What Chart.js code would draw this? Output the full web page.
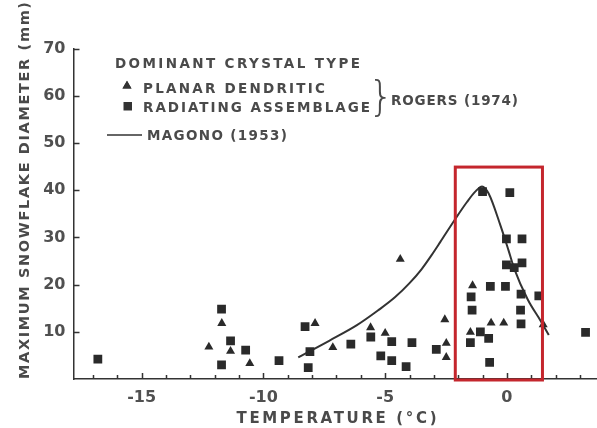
<!DOCTYPE html>
<html><head><meta charset="utf-8">
<script src="https://cdn.jsdelivr.net/npm/chart.js@4.4.0/dist/chart.umd.min.js"></script>
<style>html,body{margin:0;padding:0;background:#fff;}canvas{display:block;}</style>
</head><body>
<canvas id="c" width="597" height="428"></canvas>
<script>
// ---- data ----
const planarTemp = [-12.24, -11.71, -11.35, -10.56, -7.88, -7.15, -5.6, -5.0, -4.38, -2.55, -2.49, -2.49, -1.41, -0.65, -0.13, -1.5, 1.49];
const planarDiam = [6.8, 11.8, 5.9, 3.3, 11.8, 6.7, 10.9, 9.7, 25.4, 12.6, 7.6, 4.6, 19.8, 11.9, 11.9, 9.9, 11.5];

const radiatingTemp = [-16.8, -11.72, -11.35, -11.72, -10.73, -9.36, -8.29, -8.09, -8.16, -6.41, -5.59, -4.73, -3.9, -5.18, -4.73, -4.14, -2.9,
  -1.0, 0.12, -0.02, 0.62, -0.02, 0.3, 0.62, -0.68, -0.06, -1.47, 0.58, 1.31, -1.43, 0.56, 0.58, -1.09, -0.75, -1.5, -0.71, 3.23];
const radiatingDiam = [4.2, 14.8, 8.1, 3.0, 6.1, 3.9, 11.1, 5.8, 2.4, 7.4, 8.9, 7.9, 7.7, 4.9, 3.9, 2.6, 6.3,
  39.7, 39.5, 29.7, 29.7, 24.2, 23.6, 24.6, 19.6, 19.6, 17.4, 18.0, 17.6, 14.6, 14.6, 11.7, 10.0, 8.6, 7.7, 3.5, 9.9];

const magonoTemp = [-8.57, -7.3, -6.16, -5.3, -4.6, -4.0, -3.5, -3.1, -2.74, -2.12, -1.64, -1.3, -1.02, -0.75, -0.27, 0.07, 0.3, 0.85, 1.4, 1.72];
const magonoDiam = [4.6, 8.1, 11.4, 14.5, 17.3, 20.3, 23.3, 26.2, 29.0, 33.9, 37.5, 39.7, 40.8, 39.3, 32.6, 27.2, 23.4, 16.9, 12.2, 9.3];

const xTickValues = [-15, -10, -5, 0];
const xMinorTickValues = [-17, -16, -15, -14, -13, -12, -11, -10, -9, -8, -7, -6, -5, -4, -3, -2, -1, 0, 1, 2, 3];
const yTickValues = [10, 20, 30, 40, 50, 60, 70];

const highlightTemp = [-2.12, 1.46];
const highlightDiam = [0, 44.9];

const xTitle = 'TEMPERATURE (°C)';
const yTitle = 'MAXIMUM SNOWFLAKE DIAMETER (mm)';
const legendHeading = 'DOMINANT CRYSTAL TYPE';
const legendPlanar = 'PLANAR DENDRITIC';
const legendRadiating = 'RADIATING ASSEMBLAGE';
const legendRogers = 'ROGERS (1974)';
const legendMagono = 'MAGONO (1953)';

// ---- styling ----
const INK = '#333333';
const TEXT = '#4a4a4a';
const FONT = '"DejaVu Sans", "Liberation Sans", sans-serif';

function pts(xs, ys) { return xs.map((x, i) => ({ x: x, y: ys[i] })); }

function spacedText(ctx, text, x, yCenter, size, width, align, weight) {
  ctx.save();
  ctx.font = (weight || 'bold') + ' ' + size + 'px ' + FONT;
  ctx.letterSpacing = '0px';
  const w0 = ctx.measureText(text).width;
  const sp = (width - w0) / (text.length - 1);
  ctx.letterSpacing = sp + 'px';
  ctx.textAlign = 'left';
  ctx.textBaseline = 'alphabetic';
  ctx.fillStyle = TEXT;
  const sx = align === 'center' ? x - width / 2 : x;
  ctx.fillText(text, sx, yCenter + 0.365 * size);
  ctx.restore();
}

const decorPlugin = {
  id: 'decor',
  afterDatasetsDraw(chart) {
    const ctx = chart.ctx;
    const xs = chart.scales.x, ys = chart.scales.y;
    const area = chart.chartArea;
    ctx.save();
    ctx.strokeStyle = INK;
    ctx.lineWidth = 1.5;
    ctx.beginPath();
    xMinorTickValues.forEach(v => {
      const px = Math.round(xs.getPixelForValue(v)) + 0.5;
      const len = xTickValues.includes(v) ? 6 : 4;
      ctx.moveTo(px, area.bottom);
      ctx.lineTo(px, area.bottom - len);
    });
    yTickValues.forEach(v => {
      const py = Math.round(ys.getPixelForValue(v)) + 0.5;
      ctx.moveTo(area.left, py);
      ctx.lineTo(area.left + 6, py);
    });
    ctx.stroke();
    ctx.restore();

    ctx.save();
    ctx.strokeStyle = '#c4262d';
    ctx.lineWidth = 3;
    const x0 = xs.getPixelForValue(highlightTemp[0]);
    const x1 = xs.getPixelForValue(highlightTemp[1]);
    const y0 = ys.getPixelForValue(highlightDiam[0]) + 1;
    const y1 = ys.getPixelForValue(highlightDiam[1]);
    ctx.strokeRect(x0, y1, x1 - x0, y0 - y1);
    ctx.restore();
  },
  afterDraw(chart) {
    const ctx = chart.ctx;
    spacedText(ctx, xTitle, 336.5, 418, 15, 200, 'center');
    ctx.save();
    ctx.translate(24, 190.5);
    ctx.rotate(-Math.PI / 2);
    spacedText(ctx, yTitle, 0, 0, 14.5, 377, 'center');
    ctx.restore();

    spacedText(ctx, legendHeading, 115, 63, 13.5, 245, 'left');
    ctx.save();
    ctx.fillStyle = INK;
    Chart.helpers.drawPoint(ctx, { pointStyle: 'triangle', radius: 5.2, rotation: 0, borderWidth: 0 }, 127, 86);
    ctx.fill();
    ctx.beginPath();
    ctx.rect(123.5, 102, 8.5, 8.5);
    ctx.fill();
    ctx.restore();
    spacedText(ctx, legendPlanar, 143, 88.5, 13.5, 182, 'left');
    spacedText(ctx, legendRadiating, 143, 107, 13.5, 227, 'left');
    ctx.save();
    ctx.font = '200 40px ' + FONT;
    ctx.fillStyle = TEXT;
    ctx.textAlign = 'center';
    ctx.textBaseline = 'middle';
    ctx.fillText('}', 381, 100);
    ctx.restore();
    spacedText(ctx, legendRogers, 391, 100, 13.5, 127, 'left');
    ctx.save();
    ctx.strokeStyle = INK; ctx.lineWidth = 1.5;
    ctx.beginPath(); ctx.moveTo(107, 135); ctx.lineTo(142, 135); ctx.stroke();
    ctx.restore();
    spacedText(ctx, legendMagono, 147, 135, 13.5, 140, 'left');
  }
};

new Chart(document.getElementById('c'), {
  type: 'scatter',
  data: {
    datasets: [
      {
        label: legendMagono, type: 'line', data: pts(magonoTemp, magonoDiam),
        borderColor: INK, borderWidth: 2, pointRadius: 0, fill: false,
        cubicInterpolationMode: 'monotone', order: 3
      },
      {
        label: legendPlanar, data: pts(planarTemp, planarDiam),
        pointStyle: 'triangle', pointRadius: 5.2, backgroundColor: '#2a2a2a', borderWidth: 0, order: 2
      },
      {
        label: legendRadiating, data: pts(radiatingTemp, radiatingDiam),
        pointStyle: 'rect', pointRadius: 6.2, backgroundColor: '#2a2a2a', borderWidth: 0, order: 1
      }
    ]
  },
  options: {
    responsive: false,
    devicePixelRatio: 1,
    animation: false,
    layout: { autoPadding: false, padding: { top: 48.6, right: 0, left: 0, bottom: 0 } },
    plugins: { legend: { display: false }, tooltip: { enabled: false } },
    scales: {
      x: {
        type: 'linear', min: -17.8, max: 3.7,
        grid: { display: false, drawTicks: false },
        border: { display: true, color: INK, width: 1.5 },
        ticks: { color: '#505050', font: { family: FONT, size: 16, weight: 'bold' }, padding: 9 },
        afterBuildTicks: s => { s.ticks = xTickValues.map(v => ({ value: v })); },
        afterFit: s => { s.height = 49; }
      },
      y: {
        type: 'linear', min: 0, max: 70,
        grid: { display: false, drawTicks: false },
        border: { display: true, color: INK, width: 1.5 },
        ticks: { color: '#505050', font: { family: FONT, size: 16, weight: 'bold' }, padding: 8 },
        afterBuildTicks: s => { s.ticks = yTickValues.map(v => ({ value: v })); },
        afterFit: s => { s.width = 73.5; }
      }
    }
  },
  plugins: [decorPlugin]
});
</script>
</body></html>
